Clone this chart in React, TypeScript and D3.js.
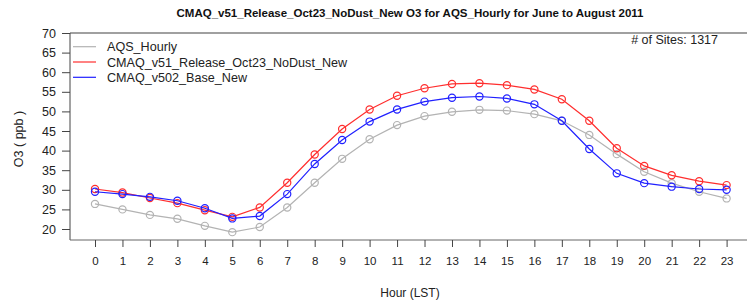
import { useEffect, useRef } from 'react';
import * as d3 from 'd3';

const hours = d3.range(0, 24);
const yTicks = [20, 25, 30, 35, 40, 45, 50, 55, 60, 65, 70];

const aqsHourly = [26.4, 25.0, 23.6, 22.6, 20.8, 19.2, 20.5, 25.5, 31.8, 37.9, 42.9, 46.5, 48.8, 49.9, 50.4, 50.2, 49.3, 47.6, 44.0, 39.1, 34.6, 31.7, 29.5, 27.8];
const v51Release = [30.2, 29.3, 27.9, 26.6, 24.8, 23.1, 25.5, 31.8, 39.0, 45.5, 50.5, 54.0, 55.9, 57.0, 57.2, 56.7, 55.6, 53.1, 47.6, 40.6, 36.1, 33.7, 32.2, 31.2];
const v502Base = [29.5, 28.9, 28.2, 27.2, 25.3, 22.7, 23.3, 28.9, 36.6, 42.7, 47.4, 50.5, 52.5, 53.5, 53.8, 53.3, 51.8, 47.6, 40.4, 34.2, 31.7, 30.8, 30.2, 30.0];

const seriesNames = ['AQS_Hourly', 'CMAQ_v51_Release_Oct23_NoDust_New', 'CMAQ_v502_Base_New'];
const seriesColors = ['#b3b3b3', '#ff2e2e', '#2020ff'];

const App = () => {
  const ref = useRef<SVGSVGElement>(null);

  useEffect(() => {
    if (!ref.current) return;
    const svg = d3.select(ref.current);
    svg.selectAll('*').remove();

    const width = 747;
    const left = 70, top = 33, bottom = 240;
    const font = '"Liberation Sans", Arial, Helvetica, sans-serif';

    const x = d3.scaleLinear().domain([0, 23]).range([95, 726.6]);
    const y = d3.scaleLinear().domain([20, 70]).range([229, 33]);

    // caja del grafico (el borde derecho queda fuera de la imagen)
    svg.append('line').attr('x1', left).attr('x2', width).attr('y1', top).attr('y2', top)
      .attr('stroke', '#808080').attr('stroke-width', 1.5);
    svg.append('line').attr('x1', left).attr('x2', left).attr('y1', top).attr('y2', bottom)
      .attr('stroke', '#444').attr('stroke-width', 1);
    svg.append('line').attr('x1', left).attr('x2', width).attr('y1', bottom).attr('y2', bottom)
      .attr('stroke', '#666').attr('stroke-width', 1);

    // eje Y
    const gy = svg.append('g').attr('transform', `translate(${left},0)`)
      .call(d3.axisLeft(y).tickValues(yTicks).tickSize(8).tickPadding(6));
    gy.select('.domain').remove();
    gy.selectAll('line').attr('stroke', '#444');
    gy.selectAll('text').attr('font-family', font).attr('font-size', 12.5).attr('fill', '#222');

    // eje X
    const gx = svg.append('g').attr('transform', `translate(0,${bottom})`)
      .call(d3.axisBottom(x).tickValues(hours).tickFormat(d3.format('d')).tickSize(7).tickPadding(10));
    gx.select('.domain').remove();
    gx.selectAll('line').attr('stroke', '#444');
    gx.selectAll('text').attr('font-family', font).attr('font-size', 11.5).attr('fill', '#222');

    // titulos
    svg.append('text').attr('x', 410).attr('y', 17).attr('text-anchor', 'middle')
      .attr('font-family', font).attr('font-weight', 'bold').attr('font-size', 11.5).attr('fill', '#111')
      .text('CMAQ_v51_Release_Oct23_NoDust_New O3 for AQS_Hourly for June to August 2011');
    svg.append('text').attr('x', 410).attr('y', 297).attr('text-anchor', 'middle')
      .attr('font-family', font).attr('font-size', 12).attr('fill', '#222').text('Hour (LST)');
    svg.append('text').attr('transform', 'translate(23,139) rotate(-90)').attr('text-anchor', 'middle')
      .attr('font-family', font).attr('font-size', 12.5).attr('fill', '#222').text('O3 ( ppb )');
    svg.append('text').attr('x', 718).attr('y', 44).attr('text-anchor', 'end')
      .attr('font-family', font).attr('font-size', 12.5).attr('fill', '#222').text('# of Sites: 1317');

    // series
    const allSeries = [aqsHourly, v51Release, v502Base];
    const line = d3.line<number>().x((_, i) => x(hours[i])).y(d => y(d));
    allSeries.forEach((vals, k) => {
      svg.append('path').datum(vals).attr('fill', 'none').attr('stroke', seriesColors[k])
        .attr('stroke-width', 1.2).attr('d', line);
      svg.append('g').selectAll('circle').data(vals).join('circle')
        .attr('cx', (_, i) => x(hours[i])).attr('cy', d => y(d)).attr('r', 3.6)
        .attr('fill', 'none').attr('stroke', seriesColors[k]).attr('stroke-width', 1.2);
    });

    // leyenda
    seriesNames.forEach((name, k) => {
      const ly = 46.7 + k * 15.3;
      svg.append('line').attr('x1', 73).attr('x2', 96).attr('y1', ly).attr('y2', ly)
        .attr('stroke', seriesColors[k]).attr('stroke-width', 1.2);
      svg.append('text').attr('x', 107).attr('y', ly + 4.5).attr('font-family', font)
        .attr('font-size', 12.6).attr('fill', '#222').text(name);
    });
  }, []);

  return (
    <svg ref={ref} width={747} height={303}
      style={{ position: 'absolute', left: 0, top: 0, background: 'white' }} />
  );
};

export default App;
